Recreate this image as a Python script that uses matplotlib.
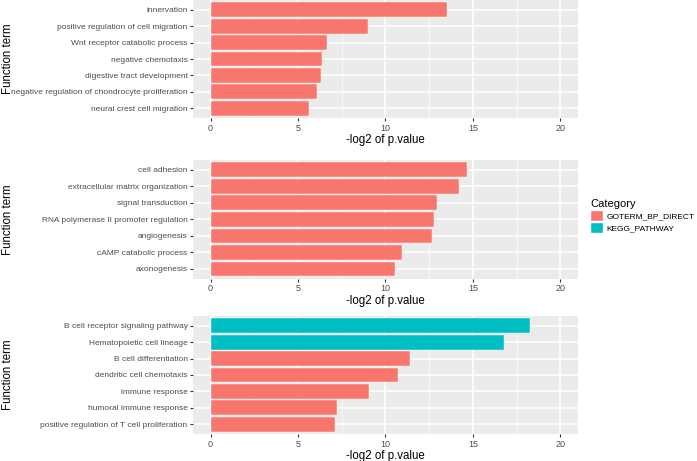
import numpy as np
import matplotlib
matplotlib.use("Agg")
import matplotlib.pyplot as plt
from matplotlib.patches import Patch

plt.rcParams['font.family'] = ['Liberation Sans', 'DejaVu Sans']

# terms listed top to bottom as shown
terms1 = ["innervation", "positive regulation of cell migration", "Wnt receptor catabolic process",
          "negative chemotaxis", "digestive tract development",
          "negative regulation of chondrocyte proliferation", "neural crest cell migration"]
vals1 = [13.53, 9.0, 6.67, 6.4, 6.31, 6.08, 5.64]
cats1 = ["GOTERM_BP_DIRECT"] * 7

terms2 = ["cell adhesion", "extracellular matrix organization", "signal transduction",
          "RNA polymerase II promoter regulation", "angiogenesis", "cAMP catabolic process",
          "axonogenesis"]
vals2 = [14.65, 14.18, 12.96, 12.75, 12.64, 10.93, 10.53]
cats2 = ["GOTERM_BP_DIRECT"] * 7

terms3 = ["B cell receptor signaling pathway", "Hematopoietic cell lineage", "B cell differentiation",
          "dendritic cell chemotaxis", "immune response", "humoral immune response",
          "positive regulation of T cell proliferation"]
vals3 = [18.28, 16.77, 11.39, 10.7, 9.04, 7.23, 7.1]
cats3 = ["KEGG_PATHWAY", "KEGG_PATHWAY"] + ["GOTERM_BP_DIRECT"] * 5

colors = {"GOTERM_BP_DIRECT": "#F8766D", "KEGG_PATHWAY": "#00BFC4"}

fig = plt.figure(figsize=(6.97, 4.61), dpi=100)

# panel boxes [left, bottom, width, height] in figure fractions
boxes = [[0.277, 0.744, 0.552, 0.256],
         [0.277, 0.395, 0.552, 0.258],
         [0.277, 0.0586, 0.552, 0.256]]

panels = [(terms1, vals1, cats1), (terms2, vals2, cats2), (terms3, vals3, cats3)]

for box, (terms, vals, cats) in zip(boxes, panels):
    ax = fig.add_axes(box)
    ax.set_facecolor("#EBEBEB")
    y = np.arange(len(terms))
    ax.barh(y, vals, height=0.9, color=[colors[c] for c in cats],
            edgecolor="#FFFFFF", linewidth=0.3, zorder=3)
    ax.set_xlim(-1, 21)
    ax.set_ylim(len(terms) - 0.4, -0.6)
    ax.set_yticks(y)
    ax.set_yticklabels(terms)
    ax.set_xticks([0, 5, 10, 15, 20])
    ax.set_xticks([2.5, 7.5, 12.5, 17.5], minor=True)
    ax.grid(which="major", color="white", linewidth=1.1, zorder=0)
    ax.grid(which="minor", axis="x", color="white", linewidth=0.5, zorder=0)
    ax.tick_params(which="major", length=2.5, width=0.8, color="#333333",
                   labelcolor="#4D4D4D", labelsize=6.0, pad=1.5)
    ax.tick_params(axis="x", labelsize=6.5)
    ax.tick_params(which="minor", length=0)
    for sp in ax.spines.values():
        sp.set_visible(False)
    ax.set_xlabel("-log2 of p.value", fontsize=8.3, labelpad=1)
    ax.set_ylabel("Function term", fontsize=8.3)
    ax.yaxis.set_label_coords(-0.466, 0.5)

handles = [Patch(facecolor=colors[k], edgecolor="white", label=k) for k in colors]
fig.legend(handles=handles, title="Category", loc="upper left",
           bbox_to_anchor=(0.836, 0.585), frameon=False, fontsize=6.0,
           title_fontsize=8.0, handlelength=1.5, handleheight=1.7,
           handletextpad=0.5, labelspacing=0.1, alignment="left")

fig.savefig("out.png", dpi=100)
